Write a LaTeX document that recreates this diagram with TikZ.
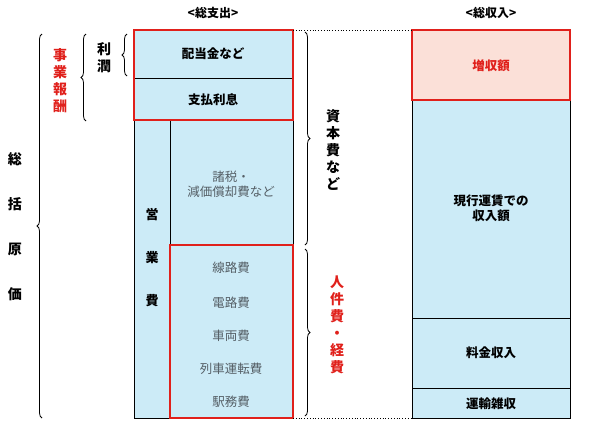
\documentclass[tikz,border=0pt]{standalone}
\usepackage{fontspec}
\setmainfont{Noto Sans CJK JP}
\usetikzlibrary{decorations.pathreplacing}
\definecolor{lb}{HTML}{CCEBF7}
\definecolor{pk}{HTML}{FBE0D8}
\definecolor{rd}{HTML}{E0201B}
\definecolor{gt}{HTML}{555F66}
\begin{document}
\begin{tikzpicture}[x=1pt,y=-1pt,
  cell/.style={draw=black,line width=1pt,fill=lb},
  redbox/.style={draw=rd,line width=2pt},
  br/.style={decorate,decoration={brace,amplitude=5pt},line width=0.8pt},
  bt/.style={font=\bfseries\fontsize{12.5}{15}\selectfont},
  gtx/.style={text=gt,font=\fontsize{12.5}{15}\selectfont,align=center},
  vt/.style={font=\bfseries\fontsize{14}{17}\selectfont,align=center}]
\useasboundingbox (0,0) rectangle (600,434);
% left column
\draw[cell] (134,30) rectangle (293,78);
\draw[cell] (134,78) rectangle (293,120);
\draw[cell] (134,120) rectangle (293,418);
\draw[line width=1pt] (170,120) -- (170,418) (170,245) -- (293,245);
\draw[redbox] (134,30) rectangle (293,120);
\draw[redbox] (170,245) rectangle (293,418);
\node[bt] (a1) at (213,54) {配当金など};
\node[bt] (a2) at (213,100) {支払利息};
\node[vt,font=\bfseries\fontsize{13}{15}\selectfont] (ei) at (152,258) {営\\[28pt]業\\[28pt]費};
\node[gtx] (zei) at (231,184) {諸税・\\減価償却費など};
\node[gtx] (c1) at (231,268) {線路費};
\node[gtx] (c2) at (231,303) {電路費};
\node[gtx] (c3) at (231,336) {車両費};
\node[gtx] (c4) at (231,369) {列車運転費};
\node[gtx] (c5) at (231,402) {駅務費};
% right column
\draw[cell,fill=pk] (412,30) rectangle (570,100);
\draw[cell] (412,100) rectangle (570,318);
\draw[cell] (412,318) rectangle (570,388);
\draw[cell] (412,388) rectangle (570,418);
\draw[redbox] (412,30) rectangle (570,100);
\node[bt,text=rd] (r1) at (491,66) {増収額};
\node[bt,align=center] (r2) at (491,208) {現行運賃での\\収入額};
\node[bt] (r3) at (491,353) {料金収入};
\node[bt] (r4) at (491,404) {運輸雑収};
% titles
\node[font=\bfseries\fontsize{12}{14}\selectfont] (t1) at (213,13) {<総支出>};
\node[font=\bfseries\fontsize{12}{14}\selectfont] (t2) at (491,13) {<総収入>};
% dotted
\draw[dotted,line width=0.8pt] (293,30) -- (412,30) (293,418) -- (412,418);
% right braces
\draw[br] (305,32) -- (305,245);
\draw[br] (305,249) -- (305,416);
\node[vt] (s1) at (333,150) {資\\本\\費\\な\\ど};
\node[vt,text=rd] (s2) at (337,325) {人\\件\\費\\・\\経\\費};
% left braces
\draw[br] (127,76) -- (127,34);
\node[vt] (p1) at (104,58) {利\\潤};
\draw[br] (86,121) -- (86,34);
\node[vt,text=rd] (p2) at (60,81) {事\\業\\報\\酬};
\draw[br] (42,418) -- (42,34);
\node[vt] (p3) at (15,227) {総\\[28pt]括\\[28pt]原\\[28pt]価};
\end{tikzpicture}
\end{document}
